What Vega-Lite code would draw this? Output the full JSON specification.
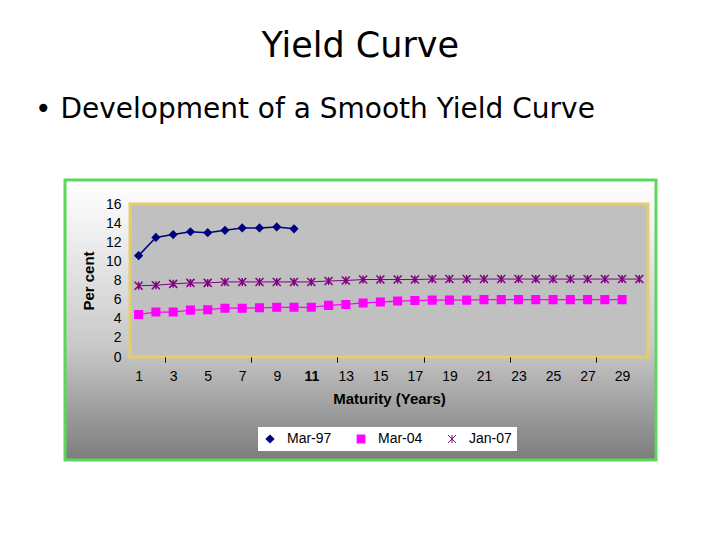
{
  "$schema": "https://vega.github.io/schema/vega-lite/v6.json",
  "background": "white",
  "padding": {"left": 35, "top": 28, "right": 0, "bottom": 0},
  "title": {"text": "Yield Curve", "anchor": "middle", "dx": 14, "fontSize": 35, "font": "DejaVu Sans", "fontWeight": "normal", "color": "#000000", "baseline": "alphabetic", "offset": 4},
  "vconcat": [
    {
      "width": 591,
      "height": 280,
      "title": {"text": "• Development of a Smooth Yield Curve", "anchor": "start", "frame": "group", "dx": -30, "fontSize": 28, "font": "DejaVu Sans", "fontWeight": "normal", "color": "#000000", "baseline": "alphabetic", "offset": 33},
      "data": {
        "values": [
          {"m": 1, "v": 10.6, "s": "Mar-97"}, {"m": 2, "v": 12.5, "s": "Mar-97"}, {"m": 3, "v": 12.8, "s": "Mar-97"}, {"m": 4, "v": 13.1, "s": "Mar-97"}, {"m": 5, "v": 13.0, "s": "Mar-97"},
          {"m": 6, "v": 13.25, "s": "Mar-97"}, {"m": 7, "v": 13.5, "s": "Mar-97"}, {"m": 8, "v": 13.5, "s": "Mar-97"}, {"m": 9, "v": 13.6, "s": "Mar-97"}, {"m": 10, "v": 13.4, "s": "Mar-97"},
          {"m": 1, "v": 4.45, "s": "Mar-04"}, {"m": 2, "v": 4.7, "s": "Mar-04"}, {"m": 3, "v": 4.7, "s": "Mar-04"}, {"m": 4, "v": 4.9, "s": "Mar-04"}, {"m": 5, "v": 4.95, "s": "Mar-04"},
          {"m": 6, "v": 5.1, "s": "Mar-04"}, {"m": 7, "v": 5.1, "s": "Mar-04"}, {"m": 8, "v": 5.15, "s": "Mar-04"}, {"m": 9, "v": 5.2, "s": "Mar-04"}, {"m": 10, "v": 5.2, "s": "Mar-04"},
          {"m": 11, "v": 5.2, "s": "Mar-04"}, {"m": 12, "v": 5.4, "s": "Mar-04"}, {"m": 13, "v": 5.5, "s": "Mar-04"}, {"m": 14, "v": 5.65, "s": "Mar-04"}, {"m": 15, "v": 5.75, "s": "Mar-04"},
          {"m": 16, "v": 5.85, "s": "Mar-04"}, {"m": 17, "v": 5.9, "s": "Mar-04"}, {"m": 18, "v": 5.95, "s": "Mar-04"}, {"m": 19, "v": 5.95, "s": "Mar-04"}, {"m": 20, "v": 5.95, "s": "Mar-04"},
          {"m": 21, "v": 6.0, "s": "Mar-04"}, {"m": 22, "v": 6.0, "s": "Mar-04"}, {"m": 23, "v": 6.0, "s": "Mar-04"}, {"m": 24, "v": 6.0, "s": "Mar-04"}, {"m": 25, "v": 6.0, "s": "Mar-04"},
          {"m": 26, "v": 6.0, "s": "Mar-04"}, {"m": 27, "v": 6.0, "s": "Mar-04"}, {"m": 28, "v": 6.0, "s": "Mar-04"}, {"m": 29, "v": 6.0, "s": "Mar-04"},
          {"m": 1, "v": 7.45, "s": "Jan-07"}, {"m": 2, "v": 7.5, "s": "Jan-07"}, {"m": 3, "v": 7.65, "s": "Jan-07"}, {"m": 4, "v": 7.75, "s": "Jan-07"}, {"m": 5, "v": 7.75, "s": "Jan-07"},
          {"m": 6, "v": 7.85, "s": "Jan-07"}, {"m": 7, "v": 7.85, "s": "Jan-07"}, {"m": 8, "v": 7.85, "s": "Jan-07"}, {"m": 9, "v": 7.85, "s": "Jan-07"}, {"m": 10, "v": 7.85, "s": "Jan-07"},
          {"m": 11, "v": 7.85, "s": "Jan-07"}, {"m": 12, "v": 7.95, "s": "Jan-07"}, {"m": 13, "v": 8.0, "s": "Jan-07"}, {"m": 14, "v": 8.1, "s": "Jan-07"}, {"m": 15, "v": 8.1, "s": "Jan-07"},
          {"m": 16, "v": 8.1, "s": "Jan-07"}, {"m": 17, "v": 8.1, "s": "Jan-07"}, {"m": 18, "v": 8.15, "s": "Jan-07"}, {"m": 19, "v": 8.15, "s": "Jan-07"}, {"m": 20, "v": 8.15, "s": "Jan-07"},
          {"m": 21, "v": 8.15, "s": "Jan-07"}, {"m": 22, "v": 8.15, "s": "Jan-07"}, {"m": 23, "v": 8.15, "s": "Jan-07"}, {"m": 24, "v": 8.15, "s": "Jan-07"}, {"m": 25, "v": 8.15, "s": "Jan-07"},
          {"m": 26, "v": 8.15, "s": "Jan-07"}, {"m": 27, "v": 8.15, "s": "Jan-07"}, {"m": 28, "v": 8.15, "s": "Jan-07"}, {"m": 29, "v": 8.15, "s": "Jan-07"}, {"m": 30, "v": 8.15, "s": "Jan-07"}
        ]
      },
      "layer": [
        {
          "data": {"values": [{}]},
          "mark": {
            "type": "rect",
            "stroke": "#5cd65c",
            "strokeWidth": 3,
            "fill": {"gradient": "linear", "x1": 0, "y1": 0, "x2": 0, "y2": 1, "stops": [
              {"offset": 0, "color": "#ffffff"}, {"offset": 0.12, "color": "#f6f6f6"}, {"offset": 0.6, "color": "#c8c8c8"}, {"offset": 1, "color": "#7c7c7c"}
            ]}
          },
          "encoding": {}
        },
        {
          "data": {"values": [{}]},
          "mark": {"type": "rect", "fill": "#c0c0c0", "stroke": "#e6cd6c", "strokeWidth": 3},
          "encoding": {
            "x": {"datum": 0.5, "type": "quantitative"},
            "x2": {"datum": 30.5},
            "y": {"datum": 0, "type": "quantitative"},
            "y2": {"datum": 16}
          }
        },
        {
          "mark": {"type": "line"},
          "encoding": {
            "x": {
              "field": "m", "type": "quantitative",
              "scale": {"domain": [0.5, 30.5], "range": [65, 583], "nice": false, "zero": false},
              "axis": {
                "title": "Maturity (Years)",
                "zindex": 1,
                "offset": -103,
                "tickCount": 100,
                "format": "d",
                "values": [1, 2.5, 3, 5, 7, 7.5, 9, 11, 12.5, 13, 15, 17, 17.5, 19, 21, 22.5, 23, 25, 27, 27.5, 29],
                "labelExpr": "datum.value % 1 === 0 ? datum.label : ''",
                "tickOpacity": {"condition": {"test": "datum.value % 1 !== 0", "value": 1}, "value": 0},
                "labelFontWeight": {"condition": {"test": "datum.value === 11", "value": "bold"}, "value": "normal"},
                "domain": false, "grid": false, "ticks": true, "tickColor": "#000000", "tickSize": 5, "tickWidth": 1,
                "labelPadding": 7, "labelFont": "Liberation Sans", "labelFontSize": 14, "labelColor": "#000000",
                "labelOverlap": false, "labelFlush": false, "labelBound": false,
                "titleFont": "Liberation Sans", "titleFontSize": 15, "titleFontWeight": "bold", "titleColor": "#000000", "titlePadding": 8
              }
            },
            "y": {
              "field": "v", "type": "quantitative",
              "scale": {"domain": [0, 16], "range": [177, 24], "nice": false, "zero": false},
              "axis": {
                "title": "Per cent",
                "zindex": 1,
                "offset": -65,
                "tickCount": 100,
                "format": "d",
                "values": [0, 2, 4, 6, 8, 10, 12, 14, 16],
                "domain": false, "grid": false, "ticks": false,
                "labelPadding": 9, "labelFont": "Liberation Sans", "labelFontSize": 14, "labelColor": "#000000",
                "labelOverlap": false, "labelBound": false,
                "titleFont": "Liberation Sans", "titleFontSize": 15, "titleFontWeight": "bold", "titleColor": "#000000", "titlePadding": 9
              }
            },
            "color": {
              "field": "s", "type": "nominal",
              "scale": {"domain": ["Mar-97", "Mar-04", "Jan-07"], "range": ["#000080", "#ff00ff", "#800080"]},
              "legend": {
                "title": null, "orient": "none", "legendX": 193, "legendY": 247, "direction": "horizontal",
                "fillColor": "#ffffff", "padding": 5, "symbolSize": 100, "symbolStrokeWidth": 1.5,
                "labelFont": "Liberation Sans", "labelFontSize": 14, "labelColor": "#000000", "labelOffset": 10, "columnPadding": 22
              }
            },
            "strokeWidth": {
              "field": "s", "type": "nominal",
              "scale": {"domain": ["Mar-97", "Mar-04", "Jan-07"], "range": [1.5, 1, 1.5]},
              "legend": null
            }
          }
        },
        {
          "mark": {"type": "point", "filled": true, "opacity": 1, "strokeWidth": 1.5},
          "encoding": {
            "x": {"field": "m", "type": "quantitative"},
            "y": {"field": "v", "type": "quantitative"},
            "shape": {
              "field": "s", "type": "nominal",
              "scale": {"domain": ["Mar-97", "Mar-04", "Jan-07"], "range": ["diamond", "square", "M-1,-1L1,1M-1,1L1,-1M0,-1L0,1"]},
              "legend": null
            },
            "fill": {
              "field": "s", "type": "nominal",
              "scale": {"domain": ["Mar-97", "Mar-04", "Jan-07"], "range": ["#000080", "#ff00ff", "#800080"]},
              "legend": null
            },
            "stroke": {
              "field": "s", "type": "nominal",
              "scale": {"domain": ["Mar-97", "Mar-04", "Jan-07"], "range": ["#000080", "#ff00ff", "#800080"]},
              "legend": null
            },
            "size": {
              "field": "s", "type": "nominal",
              "scale": {"domain": ["Mar-97", "Mar-04", "Jan-07"], "range": [50, 64, 56]},
              "legend": null
            }
          }
        }
      ]
    }
  ],
  "config": {
    "view": {"stroke": null},
    "concat": {"spacing": 0},
    "axis": {"labelOverlap": false, "labelBound": false}
  }
}
